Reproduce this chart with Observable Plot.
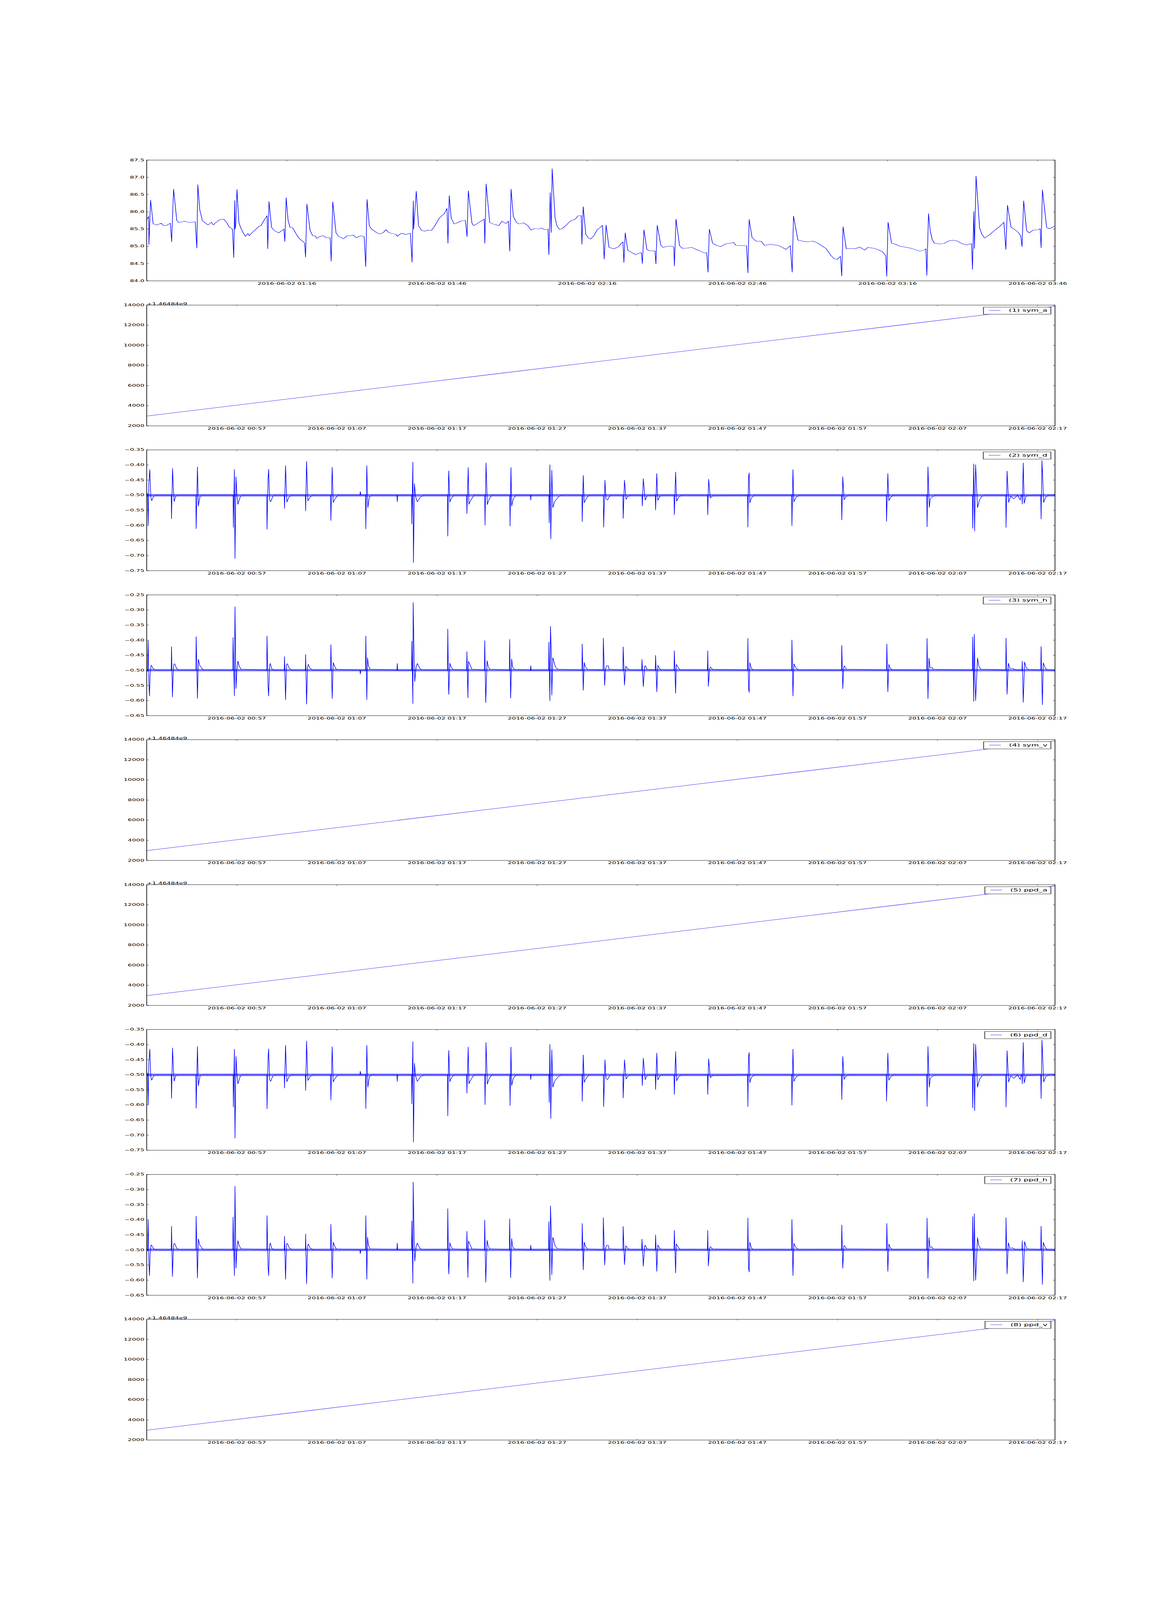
<!DOCTYPE html>
<html>
<head>
<meta charset="utf-8">
<script src="https://cdn.jsdelivr.net/npm/d3@7"></script>
<script src="https://cdn.jsdelivr.net/npm/@observablehq/plot@0.6"></script>
<style>
html, body { margin: 0; padding: 0; background: #ffffff; overflow: hidden; width: 100%; height: 100%; }
#fig { position: absolute; left: 0; top: 0; width: 3000px; height: 8000px; background: #ffffff; transform-origin: 0 0; }
#fig svg { position: absolute; left: 0; max-width: none; }
</style>
</head>
<body>
<div id="fig"></div>
<script>
// ---------------- DATA (minutes after 2016-06-02 00:48, value) ----------------
const mainSeries = [[0.00,85.77],[0.39,85.87],[0.45,85.05],[0.78,86.34],[1.29,85.65],[2.0,85.62],[2.91,85.67],[3.36,85.60],[3.88,85.60],[4.72,85.67],[4.98,85.13],[5.37,86.66],[6.01,85.75],[6.46,85.69],[7.56,85.73],[8.5,85.69],[9.70,85.71],[10.02,84.95],[10.21,86.79],[10.60,86.06],[11.12,85.75],[11.76,85.67],[12.28,85.62],[12.93,85.70],[13.32,85.62],[13.90,85.70],[14.54,85.77],[15.38,85.79],[16.03,85.68],[16.48,85.56],[17.13,85.50],[17.39,84.67],[17.58,86.33],[17.65,85.50],[17.78,85.60],[18.03,86.65],[18.42,85.69],[18.75,85.55],[19.26,85.40],[19.72,85.29],[20.23,85.37],[20.49,85.31],[21.20,85.42],[21.85,85.50],[22.50,85.59],[22.82,85.60],[23.46,85.76],[24.05,85.89],[24.18,84.93],[24.43,86.30],[24.95,85.55],[25.47,85.46],[25.99,85.42],[26.37,85.39],[26.83,85.44],[27.41,85.50],[27.60,85.14],[27.86,86.41],[28.25,85.75],[28.64,85.55],[29.09,85.55],[29.48,85.46],[29.86,85.36],[30.38,85.24],[31.03,85.16],[31.54,85.10],[31.74,84.69],[32.00,86.23],[32.64,85.46],[33.16,85.31],[33.61,85.31],[34.00,85.23],[34.58,85.29],[35.23,85.31],[35.88,85.25],[36.65,85.25],[36.85,84.57],[37.17,86.29],[37.82,85.39],[38.33,85.29],[38.78,85.26],[39.30,85.22],[40.08,85.31],[40.72,85.31],[41.24,85.33],[41.82,85.25],[42.79,85.31],[43.44,85.28],[43.76,84.41],[44.02,86.36],[44.47,85.60],[44.93,85.50],[45.44,85.45],[46.02,85.39],[46.54,85.36],[47.19,85.39],[47.83,85.48],[48.35,85.40],[49.13,85.37],[49.77,85.35],[50.10,85.29],[50.74,85.37],[51.39,85.37],[51.71,85.34],[52.68,85.38],[53.01,84.54],[53.26,86.32],[53.33,85.50],[53.85,86.60],[54.30,85.60],[54.94,85.46],[55.59,85.44],[56.24,85.47],[56.88,85.46],[57.53,85.59],[58.50,85.83],[59.47,85.95],[59.99,86.10],[60.18,85.09],[60.44,86.47],[60.83,85.82],[61.41,85.65],[62.06,85.68],[62.83,85.74],[63.67,85.75],[64.00,85.28],[64.25,86.61],[64.96,85.68],[65.29,85.60],[66.26,85.68],[66.90,85.74],[67.42,85.79],[67.55,85.09],[67.81,86.81],[68.52,85.69],[69.17,85.65],[70.33,85.60],[70.98,85.73],[71.75,85.66],[72.27,85.73],[72.53,84.86],[72.79,86.66],[73.24,85.87],[73.88,85.69],[74.34,85.65],[75.31,85.68],[76.15,85.60],[76.79,85.47],[77.57,85.52],[78.22,85.50],[78.86,85.53],[79.64,85.48],[80.16,85.50],[80.35,84.76],[80.61,86.56],[80.80,85.40],[81.00,87.25],[81.58,85.82],[81.97,85.59],[82.48,85.49],[82.87,85.50],[83.71,85.60],[84.68,85.74],[85.65,85.79],[86.10,85.88],[86.81,85.89],[86.94,85.06],[87.20,86.15],[87.72,85.35],[88.24,85.24],[88.69,85.21],[89.33,85.31],[89.98,85.48],[90.63,85.55],[91.06,85.61],[91.39,84.63],[91.77,85.62],[92.36,84.97],[93.33,84.93],[94.30,84.99],[94.81,85.09],[95.14,85.13],[95.33,84.53],[95.59,85.39],[96.11,84.89],[96.88,84.82],[97.66,84.76],[98.50,84.81],[98.82,84.82],[99.02,84.50],[99.34,85.48],[99.92,84.91],[100.44,84.87],[101.54,84.87],[101.73,84.49],[101.99,85.61],[102.70,85.04],[103.15,84.97],[104.00,85.00],[104.77,85.01],[105.29,84.98],[105.42,84.43],[105.74,85.79],[106.45,85.02],[107.03,84.94],[107.87,84.95],[108.85,84.97],[109.82,84.91],[110.78,84.85],[111.43,84.81],[111.88,84.82],[112.14,84.25],[112.40,85.50],[113.05,85.09],[113.70,85.04],[114.66,84.99],[115.63,85.07],[116.60,85.09],[117.25,85.12],[117.70,85.03],[118.87,85.02],[119.84,85.02],[120.10,84.23],[120.35,85.78],[120.94,85.25],[121.78,85.15],[122.75,85.15],[123.39,85.03],[124.69,85.06],[126.30,85.02],[126.95,84.97],[127.73,84.91],[128.57,85.02],[128.95,84.25],[129.21,85.88],[130.09,85.18],[130.83,85.16],[131.80,85.13],[133.09,85.15],[133.87,85.11],[134.71,85.03],[135.68,84.94],[136.33,84.81],[136.78,84.72],[137.30,84.65],[137.94,84.62],[138.59,84.71],[138.85,84.14],[139.11,85.57],[139.75,84.93],[140.53,84.94],[141.50,84.93],[142.47,84.98],[143.44,84.89],[144.09,84.97],[145.38,84.94],[146.35,84.89],[147.00,84.84],[147.64,84.73],[147.84,84.13],[148.10,85.70],[148.81,85.09],[149.58,85.06],[150.55,85.00],[151.85,84.97],[152.81,84.94],[154.43,84.86],[155.40,84.90],[155.66,84.93],[155.85,84.16],[156.18,85.95],[156.50,85.48],[156.89,85.21],[157.34,85.09],[158.31,85.07],[159.28,85.08],[160.25,85.16],[161.03,85.18],[161.87,85.16],[162.84,85.08],[163.81,85.04],[164.78,85.08],[164.97,84.33],[165.23,86.01],[165.36,84.94],[165.68,87.04],[166.39,85.53],[166.85,85.35],[167.36,85.24],[168.33,85.33],[169.43,85.47],[170.27,85.56],[171.24,85.70],[171.63,84.91],[171.96,86.19],[172.67,85.55],[173.18,85.51],[174.15,85.40],[174.61,85.31],[174.87,84.99],[175.19,86.32],[175.77,85.46],[176.29,85.39],[177.07,85.47],[178.04,85.48],[178.49,85.51],[178.68,84.96],[178.94,86.64],[179.78,85.55],[180.30,85.51],[180.94,85.55],[181.40,85.59]];

const symD = [[0,-0.500],[0.08,-0.494],[0.15,-0.599],[0.21,-0.465],[0.31,-0.415],[0.41,-0.506],[0.50,-0.518],[0.70,-0.503],[1.0,-0.500],
[2.45,-0.500],[2.48,-0.578],[2.58,-0.411],[2.67,-0.481],[2.74,-0.521],[2.90,-0.503],[3.2,-0.500],
[4.91,-0.500],[4.94,-0.611],[5.07,-0.406],[5.16,-0.536],[5.33,-0.503],[5.6,-0.500],
[8.63,-0.500],[8.66,-0.607],[8.76,-0.415],[8.82,-0.710],[8.92,-0.439],[9.01,-0.497],[9.11,-0.530],[9.37,-0.503],[9.7,-0.500],
[11.99,-0.500],[12.02,-0.613],[12.12,-0.448],[12.18,-0.414],[12.28,-0.516],[12.38,-0.522],[12.61,-0.503],[12.9,-0.500],
[13.74,-0.500],[13.77,-0.544],[13.87,-0.402],[14.00,-0.523],[14.22,-0.506],[14.5,-0.500],
[15.85,-0.500],[15.88,-0.552],[15.97,-0.388],[16.10,-0.519],[16.33,-0.506],[16.6,-0.500],
[18.37,-0.500],[18.40,-0.584],[18.53,-0.407],[18.63,-0.524],[18.82,-0.512],[19.1,-0.500],
[21.30,-0.500],[21.34,-0.488],[21.40,-0.500],
[21.86,-0.500],[21.89,-0.612],[21.99,-0.402],[22.09,-0.541],[22.25,-0.506],[22.5,-0.500],
[25.00,-0.500],[25.03,-0.522],[25.07,-0.500],
[26.46,-0.500],[26.49,-0.596],[26.59,-0.390],[26.65,-0.723],[26.75,-0.462],[26.85,-0.503],[27.04,-0.522],[27.33,-0.507],[27.7,-0.500],
[30.05,-0.500],[30.08,-0.636],[30.15,-0.450],[30.18,-0.419],[30.28,-0.523],[30.41,-0.512],[30.7,-0.500],
[31.96,-0.500],[31.99,-0.561],[32.12,-0.408],[32.19,-0.530],[32.35,-0.518],[32.7,-0.500],
[33.77,-0.500],[33.80,-0.599],[33.90,-0.393],[34.03,-0.531],[34.22,-0.512],[34.5,-0.500],
[36.27,-0.500],[36.30,-0.602],[36.39,-0.408],[36.46,-0.536],[36.62,-0.512],[36.9,-0.500],
[38.34,-0.500],[38.37,-0.516],[38.41,-0.500],
[40.18,-0.500],[40.21,-0.592],[40.28,-0.399],[40.37,-0.645],[40.47,-0.417],[40.57,-0.541],[40.76,-0.521],[41.09,-0.507],[41.4,-0.500],
[43.48,-0.500],[43.51,-0.588],[43.61,-0.434],[43.71,-0.525],[43.93,-0.510],[44.2,-0.500],
[45.62,-0.500],[45.65,-0.606],[45.78,-0.450],[45.88,-0.512],[46.04,-0.516],[46.26,-0.502],[46.5,-0.500],
[47.57,-0.500],[47.60,-0.577],[47.73,-0.450],[47.89,-0.514],[48.12,-0.503],[48.4,-0.500],
[49.48,-0.500],[49.51,-0.536],[49.61,-0.445],[49.80,-0.516],[49.99,-0.502],
[50.81,-0.500],[50.84,-0.549],[50.96,-0.428],[51.06,-0.517],[51.29,-0.503],[51.5,-0.500],
[52.68,-0.500],[52.71,-0.565],[52.84,-0.423],[52.94,-0.520],[53.13,-0.507],[53.4,-0.500],
[56.02,-0.500],[56.05,-0.565],[56.14,-0.447],[56.30,-0.510],[56.53,-0.502],
[60.03,-0.500],[60.06,-0.606],[60.12,-0.441],[60.19,-0.426],[60.25,-0.526],[60.41,-0.509],[60.7,-0.500],
[64.43,-0.500],[64.46,-0.601],[64.56,-0.415],[64.65,-0.522],[64.88,-0.507],[65.2,-0.500],
[69.41,-0.500],[69.44,-0.582],[69.54,-0.439],[69.67,-0.515],[69.90,-0.503],[70.2,-0.500],
[73.88,-0.500],[73.91,-0.587],[74.04,-0.428],[74.14,-0.518],[74.33,-0.507],[74.6,-0.500],
[77.93,-0.500],[77.96,-0.605],[78.05,-0.406],[78.18,-0.541],[78.28,-0.512],[78.47,-0.506],[78.8,-0.500],
[82.49,-0.500],[82.52,-0.610],[82.62,-0.396],[82.71,-0.619],[82.81,-0.399],[83.00,-0.541],[83.20,-0.515],[83.46,-0.503],[83.8,-0.500],
[85.82,-0.500],[85.85,-0.607],[85.95,-0.420],[86.11,-0.524],[86.31,-0.503],[86.63,-0.512],[87.0,-0.500],[87.27,-0.516],[87.35,-0.500],
[87.44,-0.500],[87.47,-0.530],[87.57,-0.393],[87.66,-0.527],[87.86,-0.502],
[89.32,-0.500],[89.35,-0.579],[89.44,-0.385],[89.61,-0.524],[89.80,-0.507],[90.1,-0.500],[90.74,-0.499]];

const symH = [[0,-0.500],[0.08,-0.503],[0.15,-0.401],[0.21,-0.534],[0.28,-0.585],[0.34,-0.515],[0.44,-0.483],[0.54,-0.487],[0.70,-0.497],[1.0,-0.500],
[2.45,-0.500],[2.48,-0.421],[2.57,-0.588],[2.64,-0.518],[2.70,-0.480],[2.80,-0.478],[2.96,-0.492],[3.16,-0.499],
[4.91,-0.500],[4.94,-0.388],[5.07,-0.593],[5.16,-0.463],[5.29,-0.483],[5.42,-0.489],[5.65,-0.499],
[8.60,-0.500],[8.63,-0.391],[8.76,-0.585],[8.82,-0.289],[8.92,-0.560],[9.01,-0.500],[9.11,-0.469],[9.24,-0.486],[9.43,-0.496],
[11.99,-0.500],[12.02,-0.386],[12.12,-0.551],[12.18,-0.585],[12.28,-0.483],[12.35,-0.477],[12.48,-0.494],[12.7,-0.500],
[13.74,-0.500],[13.77,-0.454],[13.87,-0.597],[13.97,-0.480],[14.06,-0.478],[14.22,-0.492],[14.5,-0.500],
[15.85,-0.500],[15.88,-0.447],[15.97,-0.612],[16.07,-0.489],[16.14,-0.480],[16.30,-0.492],[16.6,-0.500],
[18.37,-0.500],[18.40,-0.415],[18.53,-0.593],[18.63,-0.474],[18.76,-0.486],[18.95,-0.497],
[21.30,-0.500],[21.34,-0.512],[21.40,-0.500],
[21.86,-0.500],[21.89,-0.386],[21.99,-0.597],[22.06,-0.458],[22.15,-0.484],[22.31,-0.496],
[25.00,-0.500],[25.03,-0.477],[25.07,-0.500],
[26.46,-0.500],[26.49,-0.403],[26.59,-0.610],[26.62,-0.275],[26.72,-0.467],[26.78,-0.537],[26.91,-0.489],[27.04,-0.477],[27.27,-0.493],[27.49,-0.499],
[30.05,-0.500],[30.08,-0.363],[30.15,-0.548],[30.18,-0.580],[30.28,-0.476],[30.41,-0.489],[30.60,-0.497],
[31.96,-0.500],[31.99,-0.438],[32.09,-0.591],[32.15,-0.470],[32.28,-0.480],[32.48,-0.496],
[33.74,-0.500],[33.77,-0.401],[33.87,-0.607],[34.00,-0.468],[34.13,-0.489],[34.29,-0.496],
[36.23,-0.500],[36.26,-0.397],[36.36,-0.592],[36.46,-0.462],[36.55,-0.489],[36.75,-0.497],
[38.34,-0.500],[38.37,-0.484],[38.41,-0.500],
[40.15,-0.500],[40.18,-0.406],[40.28,-0.601],[40.34,-0.354],[40.41,-0.435],[40.47,-0.582],[40.57,-0.458],[40.67,-0.469],[40.83,-0.489],[41.09,-0.496],
[43.48,-0.500],[43.51,-0.412],[43.61,-0.566],[43.71,-0.474],[43.84,-0.489],[44.06,-0.497],
[45.59,-0.500],[45.62,-0.393],[45.75,-0.550],[45.84,-0.494],[45.97,-0.484],[46.10,-0.484],[46.20,-0.496],
[47.57,-0.500],[47.60,-0.422],[47.73,-0.549],[47.86,-0.486],[48.05,-0.494],[48.28,-0.499],
[49.45,-0.500],[49.48,-0.464],[49.61,-0.554],[49.74,-0.489],[49.80,-0.484],[49.99,-0.497],
[50.81,-0.500],[50.84,-0.450],[50.96,-0.571],[51.06,-0.483],[51.22,-0.493],[51.42,-0.499],
[52.68,-0.500],[52.71,-0.435],[52.84,-0.576],[52.91,-0.480],[53.07,-0.489],[53.29,-0.499],
[56.02,-0.500],[56.05,-0.435],[56.11,-0.553],[56.24,-0.493],[56.34,-0.489],[56.53,-0.497],
[60.03,-0.500],[60.06,-0.394],[60.12,-0.559],[60.19,-0.573],[60.25,-0.474],[60.41,-0.493],[60.58,-0.499],
[64.43,-0.500],[64.46,-0.399],[64.56,-0.585],[64.65,-0.478],[64.82,-0.490],[65.11,-0.499],
[69.41,-0.500],[69.44,-0.417],[69.54,-0.561],[69.64,-0.489],[69.70,-0.485],[69.90,-0.496],
[73.91,-0.500],[73.94,-0.412],[74.04,-0.571],[74.14,-0.480],[74.27,-0.492],[74.49,-0.499],
[77.93,-0.500],[77.96,-0.394],[78.05,-0.594],[78.15,-0.459],[78.25,-0.492],[78.41,-0.489],[78.60,-0.497],
[82.49,-0.500],[82.52,-0.389],[82.62,-0.603],[82.68,-0.380],[82.75,-0.520],[82.81,-0.600],[83.00,-0.459],[83.13,-0.486],[83.33,-0.496],
[85.82,-0.500],[85.85,-0.393],[85.95,-0.579],[86.08,-0.476],[86.24,-0.494],[86.47,-0.492],[86.79,-0.499],
[87.44,-0.500],[87.47,-0.469],[87.57,-0.606],[87.70,-0.472],[87.86,-0.492],[88.08,-0.497],
[89.32,-0.500],[89.35,-0.421],[89.48,-0.614],[89.57,-0.475],[89.73,-0.489],[89.93,-0.499],[90.74,-0.502]];

// ppd_d and ppd_h read identical to sym_d and sym_h in the picture
const ppdD = symD;
const ppdH = symH;

// baseline noise envelope of the d / h channels (value range of the fuzzy band)
const symDBand = [-0.5045, -0.4965];
const symHBand = [-0.5035, -0.4960];

// timestamp channels (offset from 1.46484e9): start and end values
const symA = [[0, 2975], [90.74, 13880]];
const symV = [[0, 2975], [90.74, 13880]];
const ppdA = [[0, 2975], [90.74, 13880]];
const ppdV = [[0, 2975], [90.74, 13880]];

// tick labels
const mainXTicks = ["01:16", "01:46", "02:16", "02:46", "03:16", "03:46"];
const panelXTicks = ["00:57", "01:07", "01:17", "01:27", "01:37", "01:47", "01:57", "02:07", "02:17"];
const mainYTicks = [84.0, 84.5, 85.0, 85.5, 86.0, 86.5, 87.0, 87.5];
const stampYTicks = [2000, 4000, 6000, 8000, 10000, 12000, 14000];
const dYTicks = [-0.75, -0.70, -0.65, -0.60, -0.55, -0.50, -0.45, -0.40, -0.35];
const hYTicks = [-0.65, -0.60, -0.55, -0.50, -0.45, -0.40, -0.35, -0.30, -0.25];
const legendLabels = ["(1) sym_a", "(2) sym_d", "(3) sym_h", "(4) sym_v", "(5) ppd_a", "(6) ppd_d", "(7) ppd_h", "(8) ppd_v"];
const offsetLabel = "+1.46484e9";

// ---------------- LAYOUT ----------------
const BLUE = "#0000ff";
const W = 3000, ML = 375, MR = 300, MT = 40, MB = 60;
const FIG_W = 3000, FIG_H = 8000;
const FIG_TOP = 800, PANEL_H = 603.8, PANEL_STEP = 724.5;
const FONT = "DejaVu Sans";

const base = Date.UTC(2016, 5, 2, 0, 48, 0);
const toDate = m => new Date(base + m * 60000);
const tickDate = s => new Date(`2016-06-02T${s}:00Z`);
const fmtX = d3.utcFormat("%Y-%m-%d %H:%M");

const panels = [
  {series: mainSeries, xEnd: 181.45, yDomain: [84, 87.5], yTicks: mainYTicks, yFmt: ".1f", xTicks: mainXTicks},
  {series: symA, xEnd: 90.74, yDomain: [2000, 14000], yTicks: stampYTicks, yFmt: "d", xTicks: panelXTicks, legend: legendLabels[0], offset: offsetLabel},
  {series: symD, xEnd: 90.74, yDomain: [-0.75, -0.35], yTicks: dYTicks, yFmt: ".2f", xTicks: panelXTicks, legend: legendLabels[1], band: symDBand},
  {series: symH, xEnd: 90.74, yDomain: [-0.65, -0.25], yTicks: hYTicks, yFmt: ".2f", xTicks: panelXTicks, legend: legendLabels[2], band: symHBand},
  {series: symV, xEnd: 90.74, yDomain: [2000, 14000], yTicks: stampYTicks, yFmt: "d", xTicks: panelXTicks, legend: legendLabels[3], offset: offsetLabel},
  {series: ppdA, xEnd: 90.74, yDomain: [2000, 14000], yTicks: stampYTicks, yFmt: "d", xTicks: panelXTicks, legend: legendLabels[4], offset: offsetLabel},
  {series: ppdD, xEnd: 90.74, yDomain: [-0.75, -0.35], yTicks: dYTicks, yFmt: ".2f", xTicks: panelXTicks, legend: legendLabels[5], band: symDBand},
  {series: ppdH, xEnd: 90.74, yDomain: [-0.65, -0.25], yTicks: hYTicks, yFmt: ".2f", xTicks: panelXTicks, legend: legendLabels[6], band: symHBand},
  {series: ppdV, xEnd: 90.74, yDomain: [2000, 14000], yTicks: stampYTicks, yFmt: "d", xTicks: panelXTicks, legend: legendLabels[7], offset: offsetLabel}
];

const fig = document.getElementById("fig");
const SVG_H = PANEL_H + MT + MB;

// fit the 3000x8000 figure into the actual window (the window may be shorter than asked)
function fitFigure() {
  const sx = Math.min(1, window.innerWidth / FIG_W);
  const sy = Math.min(1, window.innerHeight / FIG_H);
  fig.style.transform = `scale(${sx}, ${sy})`;
}
fitFigure();
window.addEventListener("resize", fitFigure);

panels.forEach((cfg, i) => {
  const rows = cfg.series.map(([m, v]) => ({date: toDate(m), value: v}));
  const xDom = [toDate(0), toDate(cfg.xEnd)];
  const xt = cfg.xTicks.map(tickDate);
  const marks = [];
  if (cfg.band) {
    marks.push(Plot.areaY(xDom.map(d => ({date: d})), {
      x: "date", y1: cfg.band[0], y2: cfg.band[1], fill: BLUE, fillOpacity: 0.55
    }));
  }
  marks.push(
    Plot.line(rows, {x: "date", y: "value", stroke: BLUE, strokeWidth: 1.5, clip: true}),
    Plot.frame({stroke: "black", strokeWidth: 1.7}),
    // tick labels
    Plot.axisY(cfg.yTicks, {anchor: "left", tickSize: 0, tickPadding: 6, tickFormat: d3.format(cfg.yFmt), label: null, fill: "black", fontSize: 16.67}),
    Plot.axisX(xt, {anchor: "bottom", tickSize: 0, tickPadding: 7, tickFormat: fmtX, label: null, fill: "black", fontSize: 16.67}),
    // inward ticks on all four sides
    Plot.axisY(cfg.yTicks, {anchor: "left", tickSize: 5.6, dx: 5.6, fill: "none", label: null, stroke: "black", strokeWidth: 1}),
    Plot.axisY(cfg.yTicks, {anchor: "right", tickSize: 5.6, dx: -5.6, fill: "none", label: null, stroke: "black", strokeWidth: 1}),
    Plot.axisX(xt, {anchor: "bottom", tickSize: 5.6, dy: -5.6, fill: "none", label: null, stroke: "black", strokeWidth: 1}),
    Plot.axisX(xt, {anchor: "top", tickSize: 5.6, dy: 5.6, fill: "none", label: null, stroke: "black", strokeWidth: 1})
  );
  if (cfg.offset) {
    marks.push(Plot.text([cfg.offset], {frameAnchor: "top-left", text: d => d, textAnchor: "start", lineAnchor: "bottom", dy: -1, fontSize: 16.67, fill: "black"}));
  }
  const plot = Plot.plot({
    width: W,
    height: SVG_H,
    marginLeft: ML, marginRight: MR, marginTop: MT, marginBottom: MB,
    x: {type: "utc", domain: xDom, label: null},
    y: {domain: cfg.yDomain, label: null},
    style: {fontFamily: FONT, fontSize: "16.67px", background: "white", color: "black", overflow: "visible"},
    marks
  });
  plot.style.top = (FIG_TOP + i * PANEL_STEP - MT) + "px";
  fig.appendChild(plot);

  if (cfg.legend) {
    const svg = d3.select(plot);
    const g = svg.append("g").attr("class", "legend").attr("text-anchor", "start");
    const right = W - MR - 10, top = MT + 10.5;
    const text = g.append("text")
      .attr("font-family", FONT).attr("font-size", 20).attr("fill", "black")
      .attr("text-anchor", "start")
      .text(cfg.legend);
    const tw = text.node().getComputedTextLength();
    const boxW = 14 + 30 + 21 + tw + 9, boxH = 36;
    const left = right - boxW;
    g.insert("rect", "text")
      .attr("x", left).attr("y", top).attr("width", boxW).attr("height", boxH)
      .attr("fill", "white").attr("stroke", "black").attr("stroke-width", 1.5);
    g.append("line")
      .attr("x1", left + 14).attr("x2", left + 44)
      .attr("y1", top + 17).attr("y2", top + 17)
      .attr("stroke", BLUE).attr("stroke-width", 1.5);
    text.attr("x", left + 65).attr("y", top + 17).attr("dy", "0.35em");
  }
});
</script>
</body>
</html>
